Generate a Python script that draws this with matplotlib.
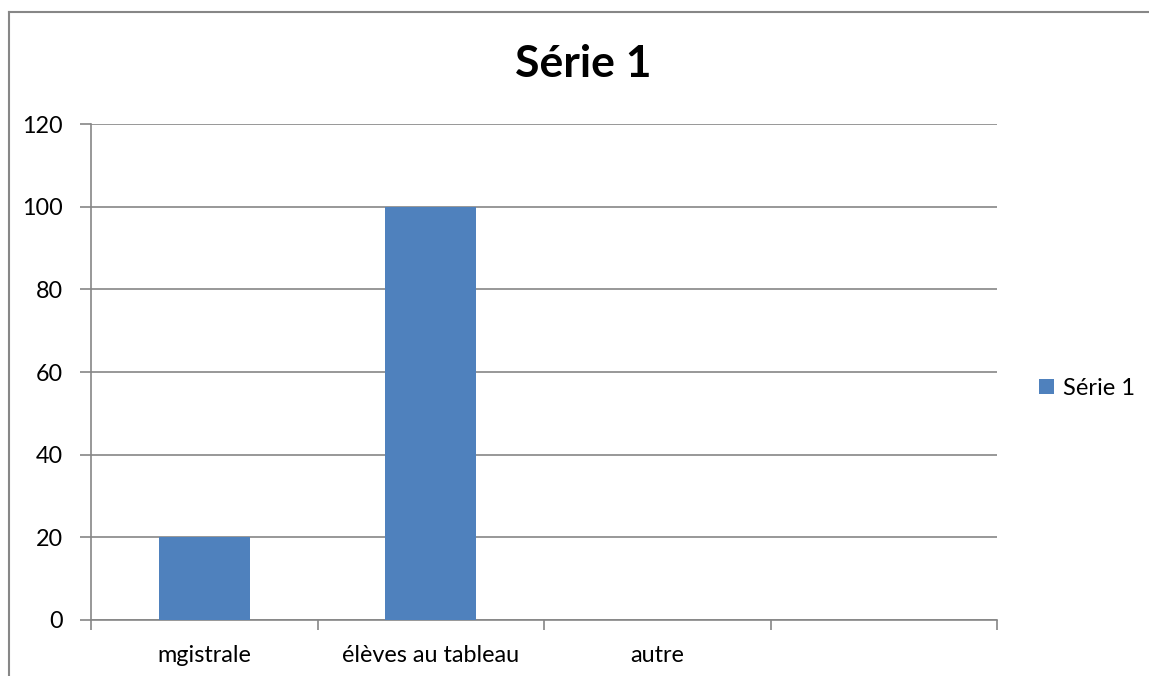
import numpy as np
import matplotlib.pyplot as plt
from matplotlib.lines import Line2D

# Excel-style single series bar chart
categories = ["mgistrale", "élèves au tableau", "autre", ""]
values = [20, 100, 0, np.nan]
series_name = "Série 1"
yticks = [0, 20, 40, 60, 80, 100, 120]

plt.rcParams['font.family'] = ['Lato', 'DejaVu Sans']

W, H = 1149, 676
fig = plt.figure(figsize=(W / 100, H / 100), dpi=100)
fig.patch.set_facecolor("white")

# chart area border, only top and left visible (cropped in the original)
border = "#878787"
fig.lines.append(Line2D([9 / W, 1.05], [1 - 12 / H, 1 - 12 / H],
                        transform=fig.transFigure, color=border, linewidth=1.5))
fig.lines.append(Line2D([9 / W, 9 / W], [-0.05, 1 - 12 / H],
                        transform=fig.transFigure, color=border, linewidth=1.5))

ax = fig.add_axes([91 / W, 1 - 620 / H, (997 - 91) / W, (620 - 124) / H])

gray = "#868686"
fs = 16.8
x = np.arange(len(categories))
ax.bar(x, values, width=0.4, color="#4F81BD", label=series_name, zorder=3)

ax.set_xlim(-0.5, len(categories) - 0.5)
ax.set_ylim(0, 120)
ax.set_yticks(yticks)
ax.set_yticklabels([str(v) for v in yticks])
ax.yaxis.grid(True, color=gray, linewidth=1.2, zorder=0)

# category labels in the slot centres, tick marks on the slot boundaries
ax.set_xticks(x)
ax.set_xticklabels(categories)
ax.tick_params(axis="x", which="major", length=0, pad=18, labelsize=fs)
ax.set_xticks(np.arange(len(categories) + 1) - 0.5, minor=True)
ax.tick_params(axis="x", which="minor", length=7, width=1.2, color=gray)
ax.tick_params(axis="y", length=8, width=1.2, color=gray, pad=12, labelsize=fs)

for s in ["top", "right"]:
    ax.spines[s].set_visible(False)
for s in ["left", "bottom"]:
    ax.spines[s].set_color(gray)
    ax.spines[s].set_linewidth(1.2)

fig.text(583 / W, 1 - 64 / H, "Série 1", ha="center", va="center",
         fontsize=32, fontweight="bold")

fig.legend(loc="center left", bbox_to_anchor=(1030 / W, 1 - 388 / H),
           frameon=False, fontsize=17, handlelength=0.6, handleheight=0.6,
           handletextpad=0.4, borderaxespad=0)

fig.savefig("out.png", dpi=100)
